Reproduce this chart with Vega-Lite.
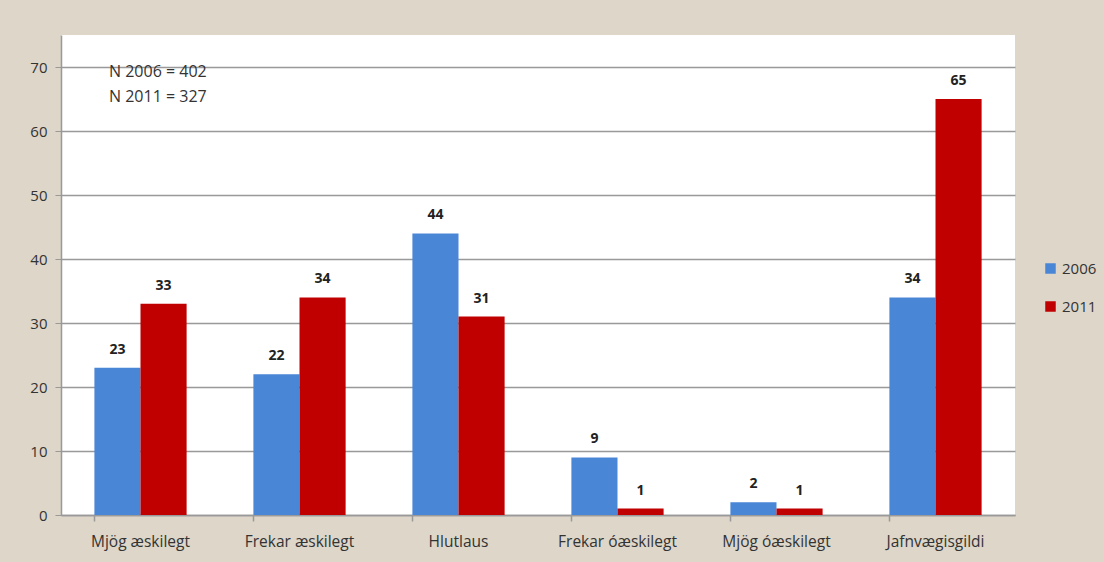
{
  "$schema": "https://vega.github.io/schema/vega-lite/v6.json",
  "width": 954,
  "height": 480,
  "autosize": {"type": "none"},
  "padding": {"left": 61, "top": 35, "right": 89, "bottom": 47},
  "background": "#ddd6c9",
  "config": {"font": "Open Sans", "view": {"fill": "white", "stroke": null}},
  "title": {
    "text": ["N 2006 = 402", "N 2011 = 327"],
    "anchor": "start",
    "frame": "group",
    "orient": "top",
    "fontSize": 16,
    "fontWeight": "normal",
    "color": "#333333",
    "lineHeight": 25,
    "baseline": "top",
    "offset": 0,
    "dx": 48,
    "dy": 70
  },
  "data": {
    "values": [
      {"cat": "Mjög æskilegt", "year": "2006", "value": 23},
      {"cat": "Mjög æskilegt", "year": "2011", "value": 33},
      {"cat": "Frekar æskilegt", "year": "2006", "value": 22},
      {"cat": "Frekar æskilegt", "year": "2011", "value": 34},
      {"cat": "Hlutlaus", "year": "2006", "value": 44},
      {"cat": "Hlutlaus", "year": "2011", "value": 31},
      {"cat": "Frekar óæskilegt", "year": "2006", "value": 9},
      {"cat": "Frekar óæskilegt", "year": "2011", "value": 1},
      {"cat": "Mjög óæskilegt", "year": "2006", "value": 2},
      {"cat": "Mjög óæskilegt", "year": "2011", "value": 1},
      {"cat": "Jafnvægisgildi", "year": "2006", "value": 34},
      {"cat": "Jafnvægisgildi", "year": "2011", "value": 65}
    ]
  },
  "encoding": {
    "x": {
      "field": "cat",
      "type": "nominal",
      "sort": ["Mjög æskilegt", "Frekar æskilegt", "Hlutlaus", "Frekar óæskilegt", "Mjög óæskilegt", "Jafnvægisgildi"],
      "scale": {"paddingInner": 0.42, "paddingOuter": 0.21}
    },
    "xOffset": {
      "field": "year",
      "type": "nominal",
      "scale": {"paddingInner": 0, "paddingOuter": 0}
    },
    "y": {
      "field": "value",
      "type": "quantitative",
      "scale": {"domain": [0, 75], "nice": false},
      "axis": {
        "title": null,
        "values": [0, 10, 20, 30, 40, 50, 60, 70],
        "labelFontSize": 15,
        "labelColor": "#333333",
        "labelPadding": 8,
        "tickSize": 6,
        "tickColor": "#999999",
        "domainColor": "#999999",
        "domainWidth": 1.5,
        "gridColor": "#999999",
        "gridWidth": 1.3
      }
    }
  },
  "resolve": {"axis": {"x": "independent"}},
  "layer": [
    {
      "mark": {"type": "bar"},
      "encoding": {
        "x": {
          "field": "cat",
          "type": "nominal",
          "sort": ["Mjög æskilegt", "Frekar æskilegt", "Hlutlaus", "Frekar óæskilegt", "Mjög óæskilegt", "Jafnvægisgildi"],
          "axis": {
            "orient": "bottom",
            "title": null,
            "labelAngle": 0,
            "labelFontSize": 15.5,
            "labelColor": "#333333",
            "labelPadding": 19,
            "ticks": false,
            "domainColor": "#999999",
            "domainWidth": 1.5
          }
        },
        "color": {
          "field": "year",
          "type": "nominal",
          "scale": {"domain": ["2006", "2011"], "range": ["#4a86d6", "#c00000"]},
          "legend": {
            "title": null,
            "orient": "none",
            "legendX": 982,
            "legendY": 226,
            "symbolType": "square",
            "symbolSize": 110,
            "symbolStrokeWidth": 0,
            "labelFontSize": 15,
            "labelColor": "#333333",
            "rowPadding": 22
          }
        }
      }
    },
    {
      "mark": {"type": "text", "baseline": "bottom", "dy": -11, "fontWeight": "bold", "fontSize": 14, "color": "#222222"},
      "encoding": {
        "x": {
          "field": "cat",
          "type": "nominal",
          "sort": ["Mjög æskilegt", "Frekar æskilegt", "Hlutlaus", "Frekar óæskilegt", "Mjög óæskilegt", "Jafnvægisgildi"],
          "axis": {
            "orient": "bottom",
            "title": null,
            "labels": false,
            "domain": false,
            "bandPosition": 0,
            "ticks": true,
            "tickSize": 6,
            "tickColor": "#999999",
            "tickWidth": 1.5
          }
        },
        "text": {"field": "value", "type": "quantitative"}
      }
    }
  ]
}
